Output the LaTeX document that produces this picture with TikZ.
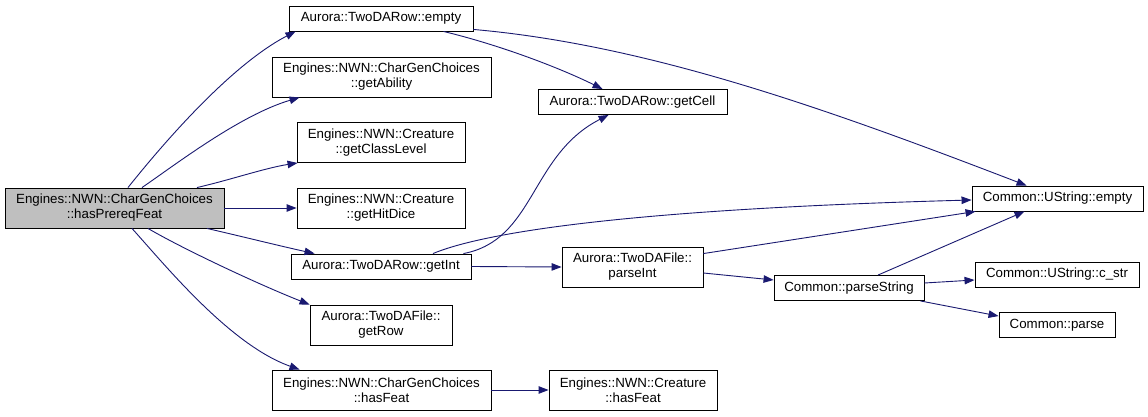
\documentclass[tikz,border=0pt]{standalone}
\usepackage{fontspec}
\setmainfont{Liberation Sans}
\usetikzlibrary{arrows.meta}
\definecolor{edgeblue}{HTML}{191970}
\definecolor{rootgray}{HTML}{BFBFBF}
\tikzset{
  box/.style={draw=black, line width=0.9pt, fill=white, rectangle, inner sep=0pt, align=center,
    font=\fontsize{13.3pt}{15pt}\selectfont, text=black},
  rootbox/.style={box, fill=rootgray},
  edge/.style={draw=edgeblue, line width=0.9pt, -{Triangle[length=10pt,width=7.5pt]}}
}
\begin{document}
\begin{tikzpicture}[x=1pt,y=-1pt]
\useasboundingbox (0,0) rectangle (1148,417);
\fill[white] (0,0) rectangle (1148,417);
% nodes
\node[rootbox, minimum width=219pt, minimum height=40pt] (root) at (114.5,208) {Engines::NWN::CharGenChoices\\::hasPrereqFeat};
\node[box, minimum width=184pt, minimum height=25pt] (rempty) at (381,18.5) {Aurora::TwoDARow::empty};
\node[box, minimum width=219pt, minimum height=40pt] (ability) at (381.5,77) {Engines::NWN::CharGenChoices\\::getAbility};
\node[box, minimum width=168pt, minimum height=40pt] (classlevel) at (381,142.5) {Engines::NWN::Creature\\::getClassLevel};
\node[box, minimum width=168pt, minimum height=40pt] (hitdice) at (381,208) {Engines::NWN::Creature\\::getHitDice};
\node[box, minimum width=180pt, minimum height=25pt] (getint) at (381,266.5) {Aurora::TwoDARow::getInt};
\node[box, minimum width=142pt, minimum height=40pt] (getrow) at (381,325) {Aurora::TwoDAFile::\\getRow};
\node[box, minimum width=219pt, minimum height=40pt] (cgchasfeat) at (381.5,390) {Engines::NWN::CharGenChoices\\::hasFeat};
\node[box, minimum width=189pt, minimum height=25pt] (getcell) at (632.5,102) {Aurora::TwoDARow::getCell};
\node[box, minimum width=141pt, minimum height=40pt] (parseint) at (632.5,267) {Aurora::TwoDAFile::\\parseInt};
\node[box, minimum width=168pt, minimum height=40pt] (crhasfeat) at (633,390) {Engines::NWN::Creature\\::hasFeat};
\node[box, minimum width=171pt, minimum height=25pt] (usempty) at (1057.5,198.5) {Common::UString::empty};
\node[box, minimum width=150pt, minimum height=25pt] (parsestring) at (849,288) {Common::parseString};
\node[box, minimum width=164pt, minimum height=25pt] (cstr) at (1057,274.5) {Common::UString::c\_str};
\node[box, minimum width=116pt, minimum height=25pt] (parse) at (1057,325) {Common::parse};
% edges
\draw[edge] ([xshift=13.5pt]root.north) .. controls (150,160) and (225,68) .. ([xshift=7pt]rempty.south west);
\draw[edge] ([xshift=27.5pt]root.north) .. controls (175,165) and (240,115) .. ([xshift=28pt]ability.south west);
\draw[edge] ([xshift=82.5pt]root.north) .. controls (230,180) and (265,168) .. ([xshift=1pt]classlevel.south west);
\draw[edge] (root.east) -- (hitdice.west);
\draw[edge] ([xshift=92.5pt]root.south) .. controls (240,236) and (280,246) .. ([xshift=24pt]getint.north west);
\draw[edge] ([xshift=33.5pt]root.south) .. controls (185,250) and (260,285) .. (getrow.north west);
\draw[edge] ([xshift=17.5pt]root.south) .. controls (165,265) and (230,345) .. ([xshift=28pt]cgchasfeat.north west);
\draw[edge] ([xshift=-30pt]rempty.south east) .. controls (500,45) and (560,68) .. ([xshift=65pt]getcell.north west);
\draw[edge] ([yshift=2pt]rempty.south east) .. controls (650,45) and (830,110) .. ([xshift=55pt]usempty.north west);
\draw[edge] ([xshift=-8pt]getint.north east) .. controls (535,240) and (530,155) .. ([xshift=71pt]getcell.south west);
\draw[edge] ([xshift=52pt]getint.north) .. controls (475,236) and (600,210) .. ([yshift=-1.5pt]usempty.west);
\draw[edge] (getint.east) -- (parseint.west);
\draw[edge] ([yshift=-7pt]parseint.north east) -- ([xshift=4pt]usempty.south west);
\draw[edge] ([yshift=-6pt]parseint.east) -- ([yshift=8pt]parsestring.west);
\draw[edge] ([xshift=29pt]parsestring.north) -- ([xshift=-33pt]usempty.south);
\draw[edge] ([yshift=5pt]parsestring.east) -- ([yshift=-5.5pt]cstr.west);
\draw[edge] ([xshift=-4pt]parsestring.south east) -- ([yshift=-4pt]parse.north west);
\draw[edge] (cgchasfeat.east) -- (crhasfeat.west);
\end{tikzpicture}
\end{document}
